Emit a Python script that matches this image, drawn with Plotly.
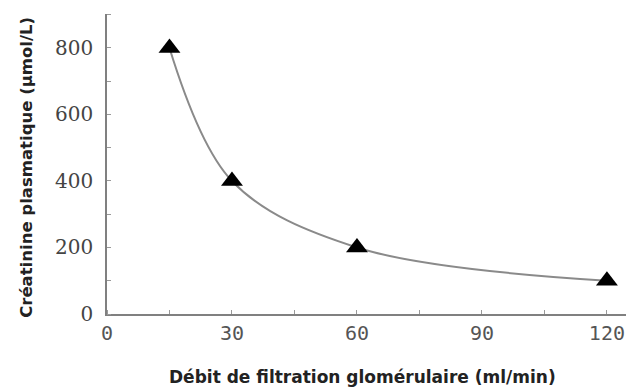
import plotly.graph_objects as go

dfg = [15, 30, 60, 120]
creatinine = [800, 400, 200, 100]
x_ticks = [0, 30, 60, 90, 120]
y_ticks = [0, 200, 400, 600, 800]
x_title = "Débit de filtration glomérulaire (ml/min)"
y_title = "Créatinine plasmatique (µmol/L)"

fig = go.Figure()
fig.add_trace(go.Scatter(
    x=dfg, y=creatinine, mode="lines",
    line=dict(color="#8a8a8a", width=2, shape="spline", smoothing=1.0),
    showlegend=False, hoverinfo="skip"))
fig.add_trace(go.Scatter(
    x=dfg, y=creatinine, mode="markers",
    marker=dict(symbol="triangle-up", size=19, color="black"),
    showlegend=False))

# page body has an 8px margin, so the figure is sized/offset to compensate
fig.update_layout(
    width=626, height=383,
    margin=dict(l=99, r=0, t=6, b=77),
    paper_bgcolor="white", plot_bgcolor="white",
    xaxis=dict(range=[0, 126.5], tickvals=x_ticks, ticktext=[str(v) for v in x_ticks],
               showgrid=False, zeroline=False, showline=True, linecolor="#808080", linewidth=1.5,
               ticks="", tickfont=dict(family="DejaVu Sans Mono", size=20, color="#555"),
               minor=dict(dtick=15, tick0=0, ticks="inside", ticklen=4, tickcolor="#999"),
               automargin=False),
    yaxis=dict(range=[0, 902], tickvals=y_ticks, ticktext=[str(v) for v in y_ticks],
               showgrid=False, zeroline=False, showline=True, linecolor="#808080", linewidth=1.5,
               ticks="", tickfont=dict(family="DejaVu Serif", size=20, color="#444"),
               minor=dict(dtick=100, tick0=0, ticks="inside", ticklen=4, tickcolor="#999"),
               ticklabelstandoff=8, automargin=False),
    annotations=[
        dict(text=x_title, xref="paper", yref="paper", x=0.484, y=-0.21, yanchor="middle",
             xanchor="center", showarrow=False,
             font=dict(family="DejaVu Sans", size=17, color="#222", weight="bold")),
        dict(text=y_title, xref="paper", yref="paper", x=-0.154, y=0.49, xanchor="center",
             yanchor="middle", textangle=-90, showarrow=False,
             font=dict(family="DejaVu Sans", size=16.5, color="#222", weight="bold")),
    ],
)

fig.write_html("out.html")
